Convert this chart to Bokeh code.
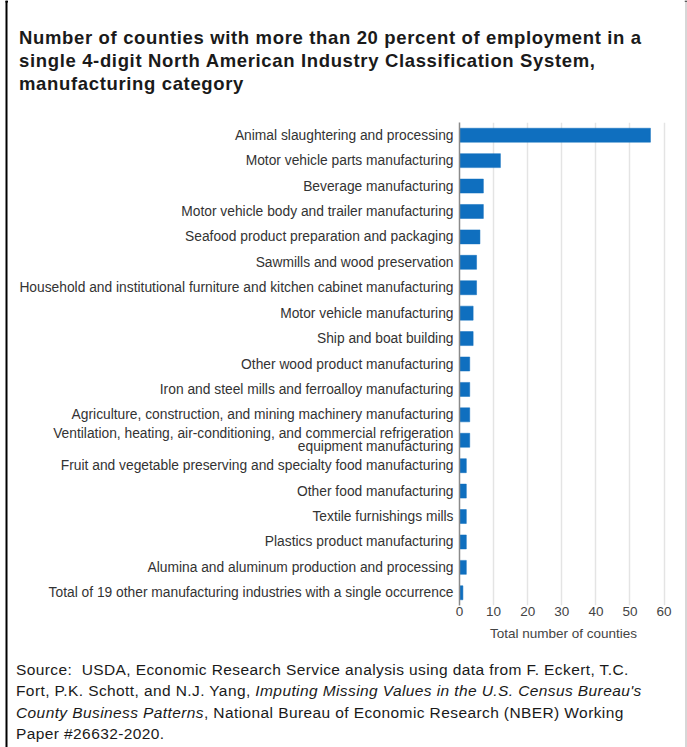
import html as _html
from bokeh.plotting import figure
from bokeh.layouts import row, column
from bokeh.models import FixedTicker, ColumnDataSource, Range1d, Div
from bokeh.embed import file_html
from bokeh.resources import INLINE

categories = [
    "Animal slaughtering and processing",
    "Motor vehicle parts manufacturing",
    "Beverage manufacturing",
    "Motor vehicle body and trailer manufacturing",
    "Seafood product preparation and packaging",
    "Sawmills and wood preservation",
    "Household and institutional furniture and kitchen cabinet manufacturing",
    "Motor vehicle manufacturing",
    "Ship and boat building",
    "Other wood product manufacturing",
    "Iron and steel mills and ferroalloy manufacturing",
    "Agriculture, construction, and mining machinery manufacturing",
    "Ventilation, heating, air-conditioning, and commercial refrigeration\nequipment manufacturing",
    "Fruit and vegetable preserving and specialty food manufacturing",
    "Other food manufacturing",
    "Textile furnishings mills",
    "Plastics product manufacturing",
    "Alumina and aluminum production and processing",
    "Total of 19 other manufacturing industries with a single occurrence",
]
values = [56, 12, 7, 7, 6, 5, 5, 4, 4, 3, 3, 3, 3, 2, 2, 2, 2, 2, 1]
x_ticks = [0, 10, 20, 30, 40, 50, 60]
x_label = "Total number of counties"
title_lines = [
    "Number of counties with more than 20 percent of employment in a",
    "single 4-digit North American Industry Classification System,",
    "manufacturing category",
]
# each source line is a list of (text, italic) runs
source_lines = [
    [("Source:\u00a0 USDA, Economic Research Service analysis using data from F. Eckert, T.C.", False)],
    [("Fort, P.K. Schott, and N.J. Yang, ", False),
     ("Imputing Missing Values in the U.S. Census Bureau's", True)],
    [("County Business Patterns", True),
     (", National Bureau of Economic Research (NBER) Working", False)],
    [("Paper #26632-2020.", False)],
]

PAGE_W, PAGE_H = 687, 747
LEFT_W, RIGHT_W = 8, 3
MID_W = PAGE_W - LEFT_W - RIGHT_W
EDGE_H, TOP_H, CHART_H = 2, 112, 535
BOT_H = PAGE_H - EDGE_H - TOP_H - CHART_H
FONT = "Liberation Sans"
BAR = "#0f6fbf"
TXT = "#1a1a1a"


def strip(w, h):
    f = figure(width=w, height=h, x_range=Range1d(0, w), y_range=Range1d(h, 0),
               x_axis_type=None, y_axis_type=None, min_border=0,
               output_backend="svg", toolbar_location=None)
    f.outline_line_color = None
    f.grid.visible = False
    f.background_fill_color = "white"
    f.border_fill_color = "white"
    return f


# left strip: black frame edge of the original image
left = strip(LEFT_W, PAGE_H)
left.quad(left=[5], right=[7], top=[0], bottom=[PAGE_H], fill_color="black", line_color=None)
left.quad(left=[5], right=[8], top=[0], bottom=[2], fill_color="black", line_color=None)

# right strip: light grey edge
right = strip(RIGHT_W, PAGE_H)
right.quad(left=[1], right=[2], top=[0], bottom=[PAGE_H], fill_color="#b0b0b0", line_color=None)
right.quad(left=[0], right=[3], top=[0], bottom=[1.2], fill_color="#333333", line_color=None)

# top edge (partial dark line of the original image)
edge = strip(MID_W, EDGE_H)
edge.quad(left=[0, 121], right=[9, MID_W], top=[0, 0], bottom=[2, 1.2],
          fill_color=["black", "#333333"], line_color=None)

# title
title_html = (
    '<div style="margin:0;padding:24px 0 0 11px;font-family:\'Liberation Sans\',Arial,sans-serif;'
    'font-weight:bold;font-size:18.5px;letter-spacing:0.65px;line-height:23px;'
    'color:%s;white-space:nowrap;">%s</div>'
    % (TXT, "<br>".join(_html.escape(t) for t in title_lines))
)
top = Div(text=title_html, width=MID_W, height=TOP_H,
          styles={"overflow": "hidden", "margin": "0", "padding": "0", "background": "white"})

# chart
src = ColumnDataSource(dict(cat=categories, val=values))
p = figure(
    width=MID_W, height=CHART_H,
    y_range=list(reversed(categories)),
    x_range=Range1d(0, 61),
    output_backend="svg", toolbar_location=None,
    min_border_left=451, min_border_right=17,
    min_border_top=8, min_border_bottom=44,
)
p.outline_line_color = None
p.background_fill_color = "white"
p.border_fill_color = "white"

p.hbar(y="cat", left=0, right="val", height=0.55, source=src,
       fill_color=BAR, line_color=BAR, line_width=0.5)

p.ygrid.grid_line_color = None
p.xgrid.grid_line_color = "#e4e4e4"
p.xgrid.grid_line_width = 1.5
p.xgrid.ticker = FixedTicker(ticks=x_ticks)

xa = p.xaxis[0]
xa.ticker = FixedTicker(ticks=x_ticks)
xa.axis_line_color = None
xa.major_tick_line_color = None
xa.minor_tick_line_color = None
xa.major_tick_out = 0
xa.major_tick_in = 0
xa.major_label_standoff = 1
xa.major_label_text_font = FONT
xa.major_label_text_font_size = "13.5px"
xa.major_label_text_color = "#444444"
xa.axis_label = x_label
xa.axis_label_text_font = FONT
xa.axis_label_text_font_size = "13.5px"
xa.axis_label_text_font_style = "normal"
xa.axis_label_text_color = "#444444"
xa.axis_label_standoff = 7

ya = p.yaxis[0]
ya.axis_line_color = "#8a8a8a"
ya.axis_line_width = 1.5
ya.major_tick_line_color = None
ya.minor_tick_line_color = None
ya.major_tick_out = 0
ya.major_tick_in = 0
ya.major_label_standoff = 6
ya.major_label_text_font = FONT
ya.major_label_text_font_size = "13.8px"
ya.major_label_text_color = "#333333"
ya.major_label_text_line_height = 0.85

# source note
lines_html = []
for runs in source_lines:
    parts = []
    for txt, ital in runs:
        t = _html.escape(txt)
        parts.append("<i>%s</i>" % t if ital else t)
    lines_html.append("".join(parts))
source_html = (
    '<div style="margin:0;padding:10px 0 0 8px;font-family:\'Liberation Sans\',Arial,sans-serif;'
    'font-size:15.5px;letter-spacing:0.4px;line-height:21.3px;color:%s;white-space:nowrap;">%s</div>'
    % (TXT, "<br>".join(lines_html))
)
bot = Div(text=source_html, width=MID_W, height=BOT_H,
          styles={"overflow": "hidden", "margin": "0", "padding": "0", "background": "white"})

layout = row(left, column(edge, top, p, bot), right)
open("out.html", "w").write(file_html(layout, INLINE))
